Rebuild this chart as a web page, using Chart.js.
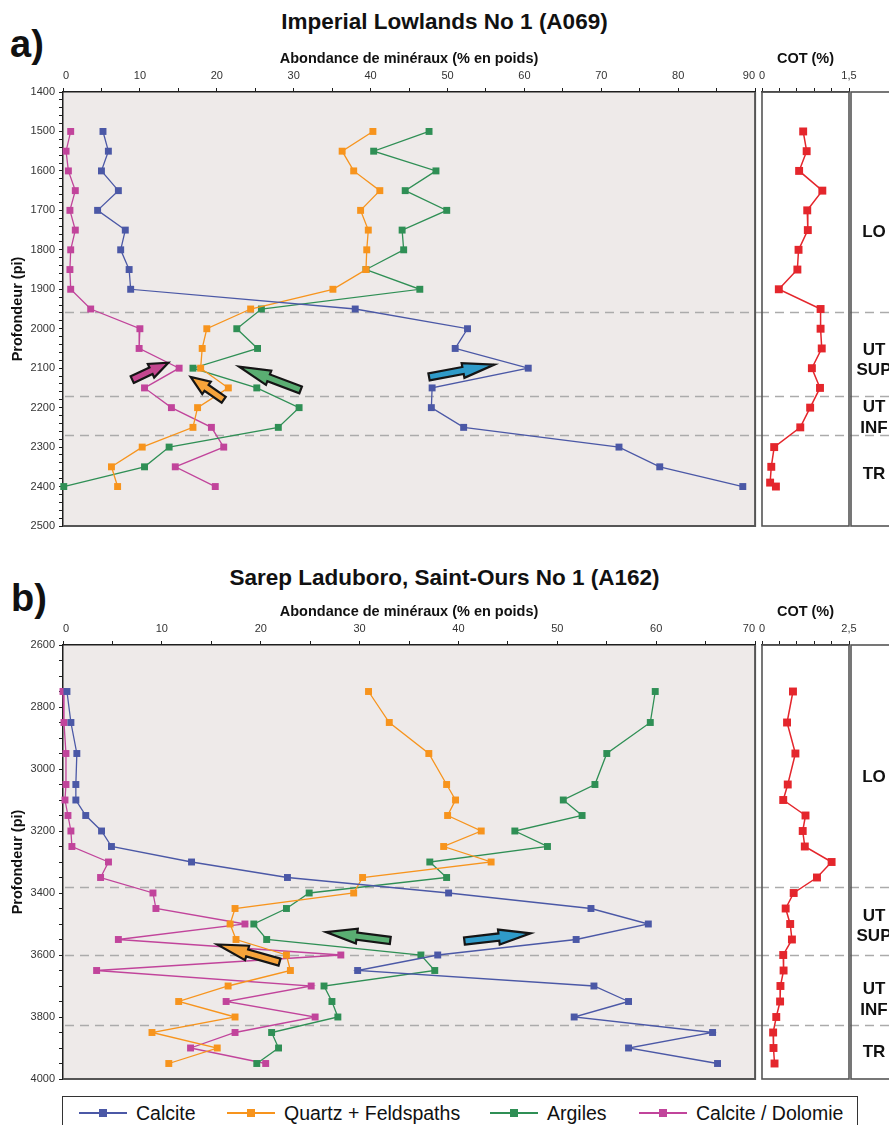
<!DOCTYPE html>
<html>
<head>
<meta charset="utf-8">
<script src="https://cdn.jsdelivr.net/npm/chart.js@4.4.1/dist/chart.umd.min.js"></script>
<style>
  html, body { margin: 0; padding: 0; background: #fff; }
  body { width: 889px; height: 1125px; position: relative; overflow: hidden;
         font-family: 'Liberation Sans', Arial, Helvetica, sans-serif; color: #111; }
  canvas { position: absolute; }
  .tag { position: absolute; font-weight: bold; font-size: 38px; line-height: 40px; }
  .ttl { position: absolute; left: 0; width: 889px; text-align: center;
         font-weight: bold; font-size: 22.5px; line-height: 26px; }
  #legend { position: absolute; left: 62px; top: 1096px; width: 796px; height: 44px;
            border: 1.5px solid #333; box-sizing: border-box; }
  .item { position: absolute; top: 0; height: 32px; display: flex; align-items: center;
          font-size: 19.5px; white-space: nowrap; }
  .sym { position: relative; width: 48px; height: 2px; margin-right: 9px; }
  .sym i { position: absolute; left: 20px; top: -3px; width: 8px; height: 8px; }
</style>
</head>
<body>
<div class="tag" style="left:10px; top:24px;">a)</div>
<div class="ttl" style="top:9px;">Imperial Lowlands No 1 (A069)</div>
<canvas id="mainA" width="760" height="492" style="left:0; top:40px;"></canvas>
<canvas id="cotA" width="149" height="492" style="left:740px; top:40px;"></canvas>

<div class="tag" style="left:11px; top:578px;">b)</div>
<div class="ttl" style="top:565px;">Sarep Laduboro, Saint-Ours No 1 (A162)</div>
<canvas id="mainB" width="760" height="492" style="left:0; top:593px;"></canvas>
<canvas id="cotB" width="149" height="492" style="left:740px; top:593px;"></canvas>

<div id="legend"></div>

<script>
// ---- Series ----
const seriesNames  = ['Calcite', 'Quartz + Feldspaths', 'Argiles', 'Calcite / Dolomie'];
const seriesColors = ['#4b58a6', '#f7941d', '#2f8f55', '#c1449b'];
const cotColor = '#e4262c';

// ---- Well a) Imperial Lowlands No 1 (A069) ----
const depthsA   = [1500, 1550, 1600, 1650, 1700, 1750, 1800, 1850, 1900, 1950,
                   2000, 2050, 2100, 2150, 2200, 2250, 2300, 2350, 2400];
const calciteA  = [5.2, 5.9, 5.0, 7.2, 4.5, 8.1, 7.5, 8.6, 8.8, 38.0,
                   52.6, 51.0, 60.5, 48.0, 47.9, 52.1, 72.3, 77.6, 88.4];
const quartzA   = [40.3, 36.3, 37.8, 41.2, 38.7, 39.7, 39.5, 39.4, 35.1, 24.4,
                   18.7, 18.1, 17.9, 21.5, 17.5, 16.9, 10.3, 6.3, 7.1];
const argilesA  = [47.6, 40.4, 48.5, 44.5, 49.9, 44.1, 44.3, 39.4, 46.4, 25.8,
                   22.6, 25.3, 16.9, 25.2, 30.7, 28.0, 13.8, 10.6, 0.1];
const dolomieA  = [1.0, 0.4, 0.7, 1.6, 0.9, 1.6, 1.0, 0.9, 1.0, 3.6,
                   10.0, 9.9, 15.1, 10.6, 14.1, 19.3, 20.9, 14.6, 19.8];
const cotDepthsA = [1500, 1550, 1600, 1650, 1700, 1750, 1800, 1850, 1900, 1950,
                    2000, 2050, 2100, 2150, 2200, 2250, 2300, 2350, 2390, 2400];
const cotA       = [0.71, 0.77, 0.64, 1.04, 0.78, 0.79, 0.63, 0.61, 0.29, 1.01,
                    1.01, 1.03, 0.86, 1.00, 0.83, 0.66, 0.21, 0.16, 0.14, 0.24];
const zoneTopsA   = [1958, 2170, 2270];
const xLabelsA    = [0, 10, 20, 30, 40, 50, 60, 70, 80, 90];
const yLabelsA    = [1400, 1500, 1600, 1700, 1800, 1900, 2000, 2100, 2200, 2300, 2400, 2500];
const cotLabelsA  = [0, 1.5];

// ---- Well b) Sarep Laduboro, Saint-Ours No 1 (A162) ----
const depthsB   = [2750, 2850, 2950, 3050, 3100, 3150, 3200, 3250, 3300, 3350, 3400,
                   3450, 3500, 3550, 3600, 3650, 3700, 3750, 3800, 3850, 3900, 3950];
const calciteB  = [0.4, 0.8, 1.4, 1.3, 1.3, 2.3, 3.9, 4.9, 13.0, 22.7, 39.0,
                   53.4, 59.2, 51.9, 37.9, 29.8, 53.7, 57.2, 51.7, 65.7, 57.2, 66.2];
const quartzB   = [30.9, 33.0, 37.0, 38.8, 39.7, 38.9, 42.3, 38.5, 43.3, 30.3, 29.4,
                   17.4, 16.9, 17.5, 22.6, 23.0, 16.7, 11.7, 17.4, 9.0, 15.6, 10.7];
const argilesB  = [59.9, 59.4, 55.0, 53.8, 50.6, 52.5, 45.7, 49.0, 37.1, 38.8, 24.9,
                   22.6, 19.3, 20.6, 36.2, 37.6, 26.4, 27.2, 27.8, 21.1, 21.8, 19.6];
const dolomieB  = [0.0, 0.1, 0.3, 0.3, 0.2, 0.5, 0.8, 0.9, 4.6, 3.8, 9.1,
                   9.4, 18.4, 5.6, 28.1, 3.4, 25.1, 16.5, 25.5, 17.4, 12.9, 20.5];
const cotB      = [0.89, 0.72, 0.96, 0.74, 0.61, 1.25, 1.17, 1.23, 2.00, 1.58, 0.91,
                   0.68, 0.81, 0.86, 0.61, 0.62, 0.53, 0.52, 0.41, 0.32, 0.33, 0.36];
const zoneTopsB   = [3380, 3600, 3825];
const xLabelsB    = [0, 10, 20, 30, 40, 50, 60, 70];
const yLabelsB    = [2600, 2800, 3000, 3200, 3400, 3600, 3800, 4000];
const cotLabelsB  = [0, 2.5];

// ---- Stratigraphic units ----
const zoneNames = [['LO'], ['UT', 'SUP'], ['UT', 'INF'], ['TR']];
const zoneLabelDepthA = [1755, 2080, 2226, 2370];
const zoneLabelDepthB = [3026, 3508, 3744, 3915];

// ---- Trend arrows (mineral %, depth) ----
const arrowsA = [
  { color: '#c4468f', from: [9.0, 2129],  to: [13.7, 2086] },
  { color: '#f6a33a', from: [20.9, 2180], to: [16.6, 2122] },
  { color: '#5aae72', from: [30.9, 2155], to: [22.9, 2096] },
  { color: '#2f9bc9', from: [47.6, 2122], to: [56.1, 2091] }
];
const arrowsB = [
  { color: '#5aae72', from: [33.1, 3553], to: [26.6, 3526] },
  { color: '#f6a33a', from: [21.9, 3623], to: [15.6, 3566] },
  { color: '#2f9bc9', from: [40.6, 3555], to: [47.3, 3530] }
];

const FONT = "'Liberation Sans', Arial, Helvetica, sans-serif";
const AXIS = '#1e1e1e';
const FRAME = '#555';
const PLOT_BG = '#eeeae9';

function fmtComma(v) { return String(v).replace('.', ','); }
function hasTick(list, v) { return list.some(t => Math.abs(t - v) < 1e-6); }

function drawArrow(ctx, x0, y0, x1, y1, fill) {
  const dx = x1 - x0, dy = y1 - y0, L = Math.hypot(dx, dy);
  const ux = dx / L, uy = dy / L, nx = -uy, ny = ux;
  const hl = L * 0.48, hw = 7.5, sw = 3.6;
  const bx = x1 - ux * hl, by = y1 - uy * hl;
  const pts = [
    [x0 + nx * sw, y0 + ny * sw], [bx + nx * sw, by + ny * sw], [bx + nx * hw, by + ny * hw],
    [x1, y1],
    [bx - nx * hw, by - ny * hw], [bx - nx * sw, by - ny * sw], [x0 - nx * sw, y0 - ny * sw]
  ];
  ctx.beginPath();
  pts.forEach((p, i) => i ? ctx.lineTo(p[0], p[1]) : ctx.moveTo(p[0], p[1]));
  ctx.closePath();
  ctx.fillStyle = fill;
  ctx.fill();
  ctx.lineWidth = 2.2;
  ctx.lineJoin = 'miter';
  ctx.strokeStyle = '#151515';
  ctx.stroke();
}

function dashedTops(chart, tops, x0) {
  const { ctx } = chart;
  const ys = chart.scales.y;
  ctx.save();
  ctx.strokeStyle = '#ababab';
  ctx.lineWidth = 1.5;
  ctx.setLineDash([9, 6]);
  tops.forEach(d => {
    const y = Math.round(ys.getPixelForValue(d)) + 0.5;
    ctx.beginPath();
    ctx.moveTo(x0, y);
    ctx.lineTo(chart.width, y);
    ctx.stroke();
  });
  ctx.restore();
}

function mineralDecor(tops, arrows) {
  return {
    id: 'mineralDecor',
    beforeDraw(chart) {
      const { ctx, chartArea: a } = chart;
      ctx.save();
      ctx.fillStyle = PLOT_BG;
      ctx.fillRect(a.left, a.top, a.right - a.left, a.bottom - a.top);
      ctx.restore();
    },
    beforeDatasetsDraw(chart) {
      dashedTops(chart, tops, chart.chartArea.left + 2);
    },
    afterDatasetsDraw(chart) {
      const { ctx } = chart;
      const xs = chart.scales.x, ys = chart.scales.y;
      ctx.save();
      arrows.forEach(ar => drawArrow(ctx,
        xs.getPixelForValue(ar.from[0]), ys.getPixelForValue(ar.from[1]),
        xs.getPixelForValue(ar.to[0]), ys.getPixelForValue(ar.to[1]), ar.color));
      ctx.restore();
    },
    afterDraw(chart) {
      const { ctx, chartArea: a } = chart;
      ctx.save();
      ctx.strokeStyle = FRAME;
      ctx.lineWidth = 2;
      ctx.beginPath();
      ctx.moveTo(a.left, a.bottom);
      ctx.lineTo(a.right, a.bottom);
      ctx.lineTo(a.right, a.top);
      ctx.stroke();
      ctx.restore();
    }
  };
}

function cotDecor(tops, labelDepths) {
  return {
    id: 'cotDecor',
    beforeDatasetsDraw(chart) {
      dashedTops(chart, tops, chart.chartArea.left - 2);
    },
    afterDraw(chart) {
      const { ctx, chartArea: a } = chart;
      const ys = chart.scales.y;
      ctx.save();
      ctx.strokeStyle = FRAME;
      ctx.lineWidth = 1.6;
      ctx.strokeRect(a.left, a.top, a.right - a.left, a.bottom - a.top);
      // unit column to the right of the COT track
      const zl = a.right + 2;
      ctx.strokeRect(zl, a.top, chart.width - zl + 10, a.bottom - a.top);
      ctx.fillStyle = '#111';
      ctx.font = 'bold 17px ' + FONT;
      ctx.textAlign = 'center';
      ctx.textBaseline = 'middle';
      const cx = zl + 23;
      zoneNames.forEach((lines, i) => {
        const yc = ys.getPixelForValue(labelDepths[i]);
        const lh = 20.5;
        lines.forEach((t, k) => ctx.fillText(t, cx, yc + (k - (lines.length - 1) / 2) * lh));
      });
      ctx.restore();
    }
  };
}

function yScale(min, max, step, labels, show) {
  return {
    type: 'linear', reverse: true, min, max, display: show,
    border: { display: true, color: AXIS, width: 1.5 },
    grid: { drawOnChartArea: false, drawTicks: true, tickLength: 4, color: AXIS, lineWidth: 1 },
    ticks: { stepSize: step, autoSkip: false, padding: 4, color: '#333',
             font: { family: FONT, size: 11 },
             callback: v => hasTick(labels, v) ? String(v) : '' },
    title: { display: show, text: 'Profondeur (pi)', color: '#111',
             font: { family: FONT, size: 14.5, weight: 'bold' }, padding: { top: 9, bottom: 0 } },
    afterFit: s => { s.width = show ? 63 : 0; s.paddingTop = 0; s.paddingBottom = 0; }
  };
}

function xScale(max, step, labels, title, align, fmt) {
  return {
    type: 'linear', position: 'top', min: 0, max,
    border: { display: true, color: AXIS, width: 1.5 },
    grid: { drawOnChartArea: false, drawTicks: true, tickLength: 4, color: AXIS, lineWidth: 1 },
    ticks: { stepSize: step, autoSkip: false, maxRotation: 0, align, padding: 5, color: '#333',
             font: { family: FONT, size: 11 },
             callback: v => hasTick(labels, v) ? fmt(v) : '' },
    title: { display: true, text: title, color: '#111',
             font: { family: FONT, size: 14.5, weight: 'bold' }, padding: { top: 10, bottom: 0 } },
    afterFit: s => { s.height = 52; s.paddingLeft = 0; s.paddingRight = 0; }
  };
}

function mineralChart(id, d) {
  const datasets = d.series.map((vals, i) => ({
    label: seriesNames[i],
    data: d.depths.map((y, k) => ({ x: vals[k], y })),
    borderColor: seriesColors[i],
    backgroundColor: seriesColors[i],
    pointBackgroundColor: seriesColors[i],
    borderWidth: 1.3,
    pointStyle: 'rect',
    pointRadius: 4.9,
    pointBorderWidth: 0,
    tension: 0,
    clip: 8
  }));
  return new Chart(document.getElementById(id), {
    type: 'line',
    data: { datasets },
    options: {
      responsive: false, animation: false, events: [], indexAxis: 'y',
      layout: { padding: { left: 0, right: 1, top: 0, bottom: 6 } },
      plugins: { legend: { display: false }, tooltip: { enabled: false } },
      scales: {
        x: xScale(d.xMax, 5, d.xLabels, 'Abondance de minéraux (% en poids)', 'inner', v => String(v)),
        y: yScale(d.yMin, d.yMax, d.yStep, d.yLabels, true)
      }
    },
    plugins: [mineralDecor(d.tops, d.arrows)]
  });
}

function cotChart(id, d) {
  return new Chart(document.getElementById(id), {
    type: 'line',
    data: { datasets: [{
      label: 'COT',
      data: d.depths.map((y, k) => ({ x: d.cot[k], y })),
      borderColor: cotColor, backgroundColor: cotColor, pointBackgroundColor: cotColor,
      borderWidth: 1.5, pointStyle: 'rect', pointRadius: 5.6, pointBorderWidth: 0,
      tension: 0, clip: 8
    }] },
    options: {
      responsive: false, animation: false, events: [], indexAxis: 'y',
      layout: { padding: { left: 22, right: 40, top: 0, bottom: 6 } },
      plugins: { legend: { display: false }, tooltip: { enabled: false } },
      scales: {
        x: xScale(d.cotMax, d.cotStep, d.cotLabels, 'COT (%)', 'center', fmtComma),
        y: yScale(d.yMin, d.yMax, d.yStep, [], false)
      }
    },
    plugins: [cotDecor(d.tops, d.zoneLabelDepth)]
  });
}

mineralChart('mainA', {
  depths: depthsA, series: [calciteA, quartzA, argilesA, dolomieA],
  xMax: 90, xLabels: xLabelsA, yMin: 1400, yMax: 2500, yStep: 20, yLabels: yLabelsA,
  tops: zoneTopsA, arrows: arrowsA
});
cotChart('cotA', {
  depths: cotDepthsA, cot: cotA, cotMax: 1.5, cotStep: 0.3, cotLabels: cotLabelsA,
  yMin: 1400, yMax: 2500, yStep: 20, tops: zoneTopsA, zoneLabelDepth: zoneLabelDepthA
});
mineralChart('mainB', {
  depths: depthsB, series: [calciteB, quartzB, argilesB, dolomieB],
  xMax: 70, xLabels: xLabelsB, yMin: 2600, yMax: 4000, yStep: 50, yLabels: yLabelsB,
  tops: zoneTopsB, arrows: arrowsB
});
cotChart('cotB', {
  depths: depthsB, cot: cotB, cotMax: 2.5, cotStep: 0.5, cotLabels: cotLabelsB,
  yMin: 2600, yMax: 4000, yStep: 50, tops: zoneTopsB, zoneLabelDepth: zoneLabelDepthB
});

// ---- Shared legend ----
const legend = document.getElementById('legend');
const itemLeft = [16, 164, 427, 576];
seriesNames.forEach((name, i) => {
  const it = document.createElement('div');
  it.className = 'item';
  it.style.left = itemLeft[i] + 'px';
  const sym = document.createElement('span');
  sym.className = 'sym';
  sym.style.background = seriesColors[i];
  const sq = document.createElement('i');
  sq.style.background = seriesColors[i];
  sym.appendChild(sq);
  it.appendChild(sym);
  it.appendChild(document.createTextNode(name));
  legend.appendChild(it);
});
</script>
</body>
</html>
